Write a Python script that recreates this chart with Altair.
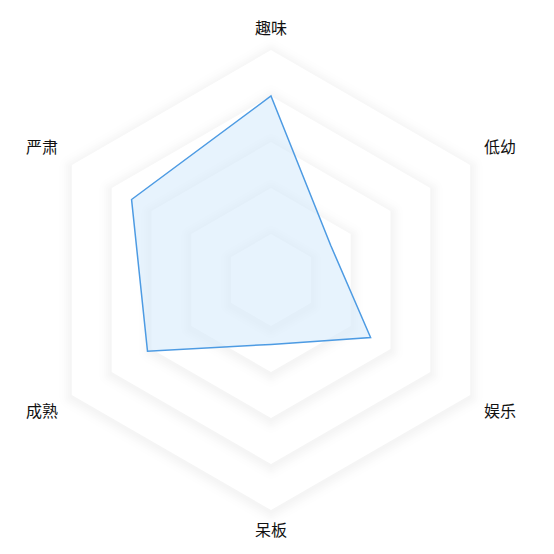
import altair as alt
import pandas as pd
import numpy as np

categories = ["趣味", "低幼", "娱乐", "呆板", "成熟", "严肃"]
values = [80, 30, 50, 28, 62, 70]
ring_levels = [20, 40, 60, 80, 100]
label_radius = [109, 115, 115, 109, 115, 115]

PX = 2.3
W = H = 538
CX, CY = 263, 272
xdom = [-CX / PX, (W - CX) / PX]
ydom = [-(H - CY) / PX, CY / PX]

ang = np.deg2rad(np.arange(6) * 60)


def poly(radii):
    r = np.array(radii, dtype=float)
    return pd.DataFrame({"x": r * np.sin(ang), "y": r * np.cos(ang), "idx": np.arange(6)})


X = alt.X("x:Q", scale=alt.Scale(domain=xdom, nice=False, zero=False), axis=None)
Y = alt.Y("y:Q", scale=alt.Scale(domain=ydom, nice=False, zero=False), axis=None)
O = alt.Order("idx:Q")

layers = []
for lvl in reversed(ring_levels):
    df = poly([lvl] * 6)
    base = alt.Chart(df)
    for w, op in [(26, 0.005), (21, 0.005), (16, 0.006), (12, 0.007), (8, 0.008), (4, 0.008)]:
        layers.append(
            base.mark_line(interpolate="linear-closed", stroke="#000000", strokeOpacity=op,
                           strokeWidth=w, strokeJoin="round")
            .encode(x=X, y=Y, order=O, yOffset=alt.value(2))
        )
    layers.append(
        base.mark_line(interpolate="linear-closed", fill="#ffffff", stroke="#ffffff",
                       strokeOpacity=0, fillOpacity=1)
        .encode(x=X, y=Y, order=O)
    )

data_df = poly(values)
data_df["cat"] = categories
layers.append(
    alt.Chart(data_df).mark_line(interpolate="linear-closed", fill="#d4e9fb", fillOpacity=0.55,
                                 stroke="#4d9be3", strokeWidth=1.5, strokeJoin="miter")
    .encode(x=X, y=Y, order=O)
)

lab_df = poly(label_radius)
lab_df["cat"] = categories
layers.append(
    alt.Chart(lab_df).mark_text(font="Noto Sans CJK SC", fontSize=16, color="#111111",
                                align="center", baseline="middle")
    .encode(x=X, y=Y, text="cat:N")
)

chart = (
    alt.layer(*layers)
    .properties(width=W, height=H, padding=0, autosize=alt.AutoSizeParams(type="none"))
    .configure_view(stroke=None)
)

chart.save("out.html", embed_options={"renderer": "svg", "actions": False})
